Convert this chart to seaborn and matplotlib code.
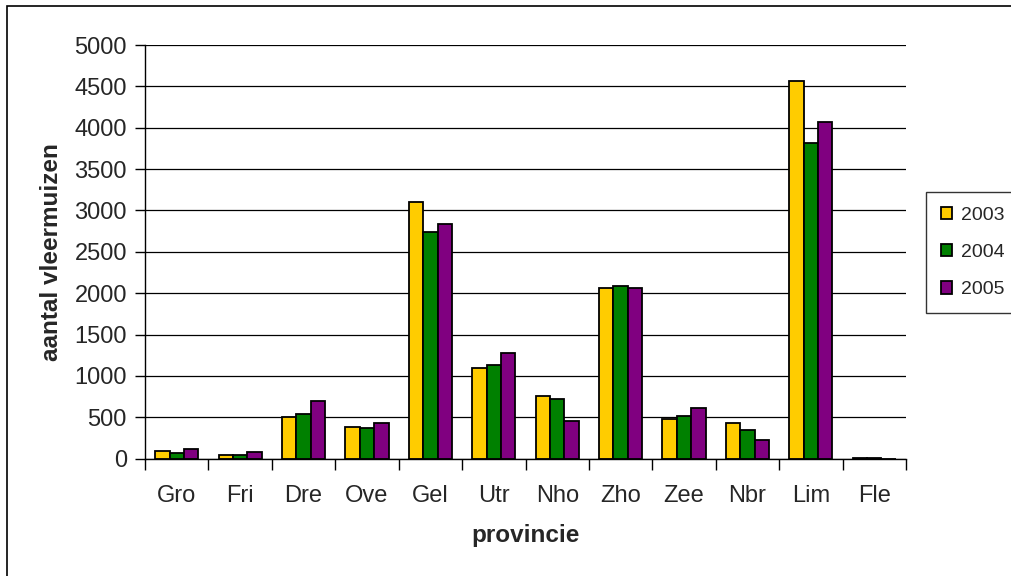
import matplotlib
matplotlib.use("Agg")
import matplotlib.pyplot as plt
from matplotlib.patches import Rectangle
from matplotlib.ticker import FixedLocator
import seaborn as sns
import pandas as pd

provinces = ["Gro", "Fri", "Dre", "Ove", "Gel", "Utr", "Nho", "Zho", "Zee", "Nbr", "Lim", "Fle"]
years = ["2003", "2004", "2005"]
v2003 = [95, 48, 498, 386, 3100, 1100, 763, 2064, 474, 434, 4560, 12]
v2004 = [70, 45, 546, 365, 2740, 1128, 719, 2088, 522, 341, 3820, 12]
v2005 = [115, 75, 703, 434, 2831, 1281, 454, 2064, 610, 229, 4064, 0]
colors = ["#FFCC00", "#008000", "#800080"]

rows = []
for y, vals in zip(years, [v2003, v2004, v2005]):
    for p, v in zip(provinces, vals):
        rows.append({"provincie": p, "jaar": y, "aantal": v})
df = pd.DataFrame(rows)

sns.set_style("white")
plt.rcParams["font.family"] = ["Liberation Sans", "DejaVu Sans"]

fig = plt.figure(figsize=(10.11, 5.76), dpi=100)
ax = fig.add_axes([145/1011, 1-458.7/576, (906-145)/1011, (458.7-45)/576])

sns.barplot(data=df, x="provincie", y="aantal", hue="jaar", order=provinces,
            hue_order=years, palette=colors, width=0.68, edgecolor="black",
            linewidth=1.3, saturation=1, ax=ax, legend=True)

ax.set_ylim(0, 5000)
ax.set_xlim(-0.5, len(provinces) - 0.5)
ax.set_yticks(range(0, 5001, 500))
ax.yaxis.grid(True, color="black", linewidth=0.9)
ax.set_axisbelow(True)
for s in ["top", "right"]:
    ax.spines[s].set_visible(False)
for s in ["left", "bottom"]:
    ax.spines[s].set_color("black")
    ax.spines[s].set_linewidth(1.0)

ax.tick_params(axis="y", which="major", direction="out", length=7, width=1,
               color="black", left=True, labelsize=17, pad=6)
ax.tick_params(axis="x", which="major", length=0, labelsize=17, pad=19)
ax.xaxis.set_minor_locator(FixedLocator([i - 0.5 for i in range(len(provinces) + 1)]))
ax.tick_params(axis="x", which="minor", direction="out", length=8, width=1,
               color="black", bottom=True)

ax.set_ylabel("aantal vleermuizen", fontsize=17.5, fontweight="bold", labelpad=8)
ax.set_xlabel("provincie", fontsize=17.5, fontweight="bold", labelpad=12)

leg = ax.legend(loc="upper left", bbox_to_anchor=(926/1011, 1-192/576),
                bbox_transform=fig.transFigure, frameon=True, fancybox=False,
                edgecolor="black", fontsize=14, handlelength=0.6, handleheight=0.6,
                handletextpad=0.45, labelspacing=1.05, borderpad=0.75,
                borderaxespad=0, title=None)
leg.get_frame().set_linewidth(1.0)

fig.patches.append(Rectangle((7/1011, -0.5), 1.5, 0.5 + 1 - 6/576,
                             transform=fig.transFigure, fill=False,
                             edgecolor="black", linewidth=1.2, zorder=-1))

fig.savefig("out.png", dpi=100)
